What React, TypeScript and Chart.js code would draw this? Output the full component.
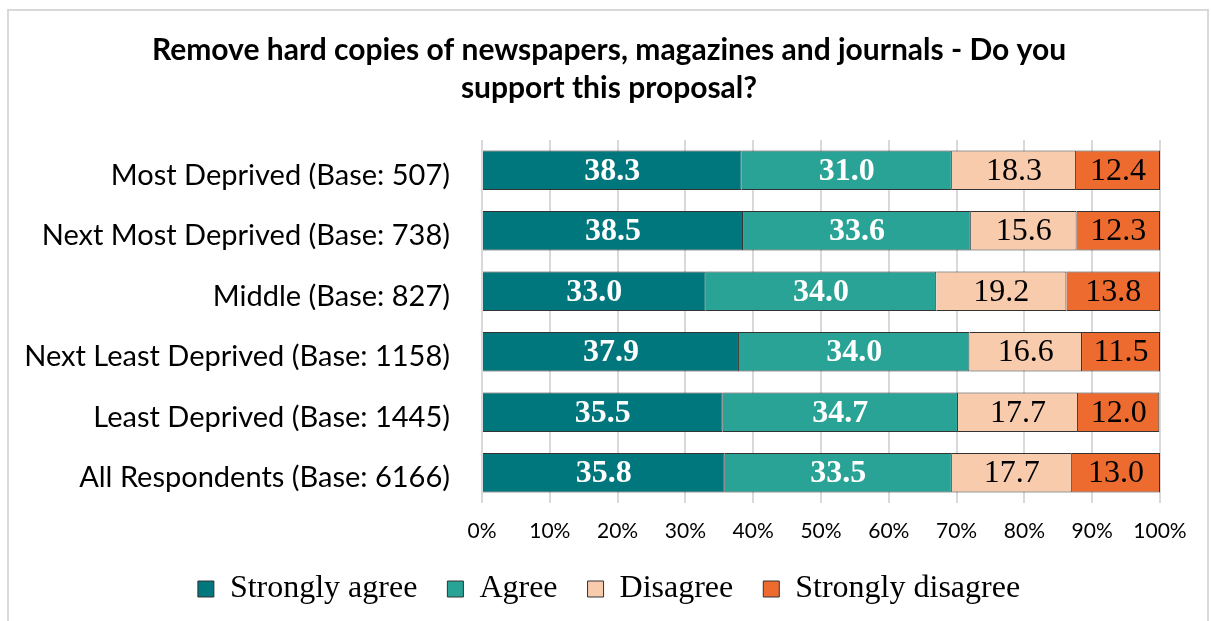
import React, { useEffect, useRef } from "react";
import { Chart, registerables } from "chart.js";

Chart.register(...registerables);

const categories = [
  "Most Deprived (Base: 507)",
  "Next Most Deprived (Base: 738)",
  "Middle (Base: 827)",
  "Next Least Deprived (Base: 1158)",
  "Least Deprived (Base: 1445)",
  "All Respondents (Base: 6166)",
];
const stronglyAgree = [38.3, 38.5, 33.0, 37.9, 35.5, 35.8];
const agree = [31.0, 33.6, 34.0, 34.0, 34.7, 33.5];
const disagree = [18.3, 15.6, 19.2, 16.6, 17.7, 17.7];
const stronglyDisagree = [12.4, 12.3, 13.8, 11.5, 12.0, 13.0];
const seriesNames = ["Strongly agree", "Agree", "Disagree", "Strongly disagree"];
const xTicks = [0, 10, 20, 30, 40, 50, 60, 70, 80, 90, 100];
const titleLines = [
  "Remove hard copies of newspapers, magazines and journals - Do you",
  "support this proposal?",
];

const SANS = "Lato, 'Open Sans', sans-serif";
const SERIF = "'Liberation Serif', 'DejaVu Serif', serif";

const valueLabels = {
  id: "valueLabels",
  afterDatasetsDraw(chart: any) {
    const ctx = chart.ctx;
    ctx.save();
    ctx.textAlign = "center";
    ctx.textBaseline = "middle";
    chart.data.datasets.forEach((ds: any, di: number) => {
      const meta = chart.getDatasetMeta(di);
      if (meta.hidden) return;
      const light = di < 2;
      ctx.font = (light ? "bold " : "") + "32px " + SERIF;
      ctx.fillStyle = light ? "#ffffff" : "#000000";
      meta.data.forEach((el: any, i: number) => {
        const { x, y, base } = el.getProps(["x", "y", "base"], true);
        ctx.fillText(Number(ds.data[i]).toFixed(1), (x + base) / 2, y + 1);
      });
    });
    ctx.restore();
  },
};

// let the long category labels extend left of the (narrow) y-axis box without being clipped
const unclipYLabels = {
  id: "unclipYLabels",
  afterLayout(chart: any) {
    if (chart.scales.y) chart.scales.y.left = 0;
  },
};

export default function App() {
  const ref = useRef<HTMLCanvasElement | null>(null);
  useEffect(() => {
    if (!ref.current) return;
    const colors = ["#00777d", "#29a396", "#f8cbad", "#ed6b2e"];
    const values = [stronglyAgree, agree, disagree, stronglyDisagree];
    const chart = new Chart(ref.current, {
      type: "bar",
      data: {
        labels: categories,
        datasets: seriesNames.map((name, i) => ({
          label: name,
          data: values[i],
          backgroundColor: colors[i],
          borderColor: "#333333",
          borderWidth: 1,
          barPercentage: 0.65,
          categoryPercentage: 1,
        })),
      },
      options: {
        indexAxis: "y",
        responsive: false,
        animation: false,
        layout: { padding: { left: 58, right: 51, top: 0, bottom: 6 } },
        plugins: {
          title: {
            display: true,
            text: titleLines,
            color: "#000000",
            font: { family: SANS, size: 30, weight: "bold", lineHeight: 38 / 30 },
            padding: { top: 31, bottom: 33 },
          },
          legend: {
            display: true,
            position: "bottom",
            labels: {
              color: "#000000",
              font: { family: SERIF, size: 32 },
              boxWidth: 16,
              boxHeight: 16,
              padding: 30,
            },
          },
          tooltip: { enabled: false },
        },
        scales: {
          x: {
            stacked: true,
            min: 0,
            max: 100,
            afterBuildTicks: (scale: any) => {
              scale.ticks = xTicks.map((v) => ({ value: v }));
            },
            afterFit: (scale: any) => {
              scale.height = 40;
            },
            ticks: {
              color: "#000000",
              font: { family: SANS, size: 21 },
              padding: 16,
              callback: (v: any) => v + "%",
            },
            grid: { color: "#d9d9d9", lineWidth: 2, drawTicks: false },
            border: { display: false },
          },
          y: {
            stacked: true,
            afterFit: (scale: any) => {
              scale.width = 424;
            },
            ticks: {
              color: "#000000",
              font: { family: SANS, size: 29 },
              padding: 24,
              labelOffset: 5,
            },
            grid: { display: false },
            border: { display: false },
          },
        },
      },
      plugins: [valueLabels, unclipYLabels],
    });
    return () => chart.destroy();
  }, []);

  return (
    <div style={{ position: "fixed", left: 0, top: 0, width: 1211, height: 621, overflow: "hidden", background: "#ffffff" }}>
      <div
        style={{
          position: "absolute",
          left: 7,
          top: 9,
          width: 1202,
          height: 640,
          border: "2px solid #d9d9d9",
          boxSizing: "border-box",
        }}
      />
      <canvas ref={ref} width={1211} height={621} style={{ position: "absolute", left: 0, top: 0, width: 1211, height: 621 }} />
    </div>
  );
}
